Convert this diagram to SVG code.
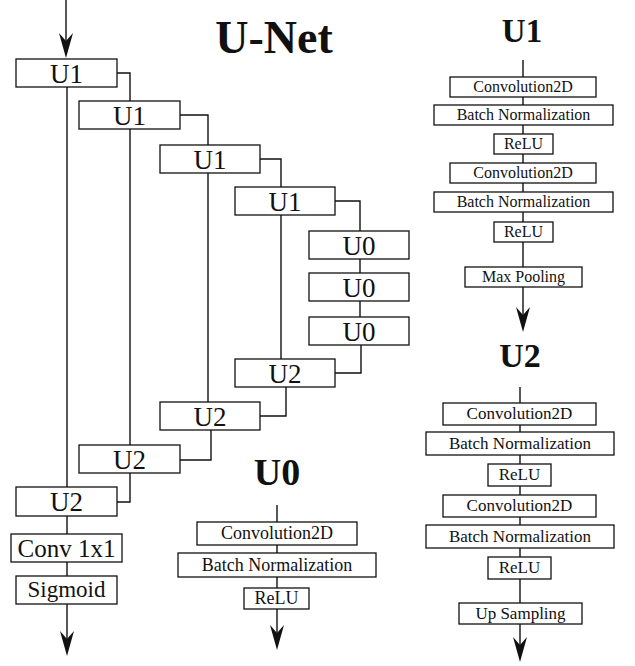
<svg xmlns="http://www.w3.org/2000/svg" width="635" height="666" viewBox="0 0 635 666">
  <style>
    .box { fill: #fff; stroke: #111; stroke-width: 1.3; }
    .wire { fill: none; stroke: #111; stroke-width: 1.4; }
    .t { font-family: "Liberation Serif", "Times New Roman", serif; fill: #111; text-anchor: middle; }
    .big { font-size: 27px; }
    .title { font-weight: bold; }
    .s16 { font-size: 16px; }
    .s17 { font-size: 17px; }
    .s18 { font-size: 18px; }
  </style>
  <defs>
    <marker id="head" viewBox="0 0 25 14" refX="17" refY="7" markerWidth="25" markerHeight="14" markerUnits="userSpaceOnUse" orient="auto">
      <path d="M0,0 L25,7 L0,14 L8,7 Z" fill="#111"/>
    </marker>
  </defs>

  <rect width="635" height="666" fill="#fff"/>

  <!-- titles -->
  <text class="t title" x="274" y="53" font-size="46">U-Net</text>
  <text class="t title" x="277" y="485" font-size="38">U0</text>
  <text class="t title" x="522" y="42" font-size="33">U1</text>
  <text class="t title" x="520" y="367" font-size="34">U2</text>

  <!-- connectors -->
  <g id="connectors">
    <!-- U-Net main flow -->
    <path class="wire" d="M66,0 V50" marker-end="url(#head)"/>
    <path class="wire" d="M117,73 H130 V101"/>
    <path class="wire" d="M180,115 H208 V145"/>
    <path class="wire" d="M260,159 H281 V187"/>
    <path class="wire" d="M335,201 H360 V231"/>
    <path class="wire" d="M360,259 V273"/>
    <path class="wire" d="M360,301 V317"/>
    <path class="wire" d="M361,345 V373 H335"/>
    <path class="wire" d="M286,387 V416 H260"/>
    <path class="wire" d="M211,430 V460 H180"/>
    <path class="wire" d="M130,473 V502 H117"/>
    <path class="wire" d="M67,516 V534"/>
    <path class="wire" d="M67,562 V576"/>
    <path class="wire" d="M67,604 V648" marker-end="url(#head)"/>
    <!-- skip connections -->
    <path class="wire" d="M67,87 V487"/>
    <path class="wire" d="M130,129 V445"/>
    <path class="wire" d="M208,173 V402"/>
    <path class="wire" d="M281,215 V359"/>
    <!-- U0 block spine -->
    <path class="wire" d="M277,505 V642" marker-end="url(#head)"/>
    <!-- U1 block spine -->
    <path class="wire" d="M523,60 V324" marker-end="url(#head)"/>
    <!-- U2 block spine -->
    <path class="wire" d="M520,387 V654" marker-end="url(#head)"/>
  </g>

  <!-- U-Net nodes -->
  <g id="down1"><rect class="box" x="16" y="59" width="101" height="28"/><text class="t big" x="66.5" y="83">U1</text></g>
  <g id="down2"><rect class="box" x="79" y="101" width="101" height="28"/><text class="t big" x="129.5" y="125">U1</text></g>
  <g id="down3"><rect class="box" x="160" y="145" width="100" height="28"/><text class="t big" x="210" y="169">U1</text></g>
  <g id="down4"><rect class="box" x="235" y="187" width="100" height="28"/><text class="t big" x="285" y="211">U1</text></g>
  <g id="bottom1"><rect class="box" x="309" y="231" width="100" height="28"/><text class="t big" x="359" y="255">U0</text></g>
  <g id="bottom2"><rect class="box" x="309" y="273" width="100" height="28"/><text class="t big" x="359" y="297">U0</text></g>
  <g id="bottom3"><rect class="box" x="309" y="317" width="100" height="28"/><text class="t big" x="359" y="341">U0</text></g>
  <g id="up4"><rect class="box" x="235" y="359" width="100" height="28"/><text class="t big" x="285" y="383">U2</text></g>
  <g id="up3"><rect class="box" x="160" y="402" width="100" height="28"/><text class="t big" x="210" y="426">U2</text></g>
  <g id="up2"><rect class="box" x="79" y="445" width="101" height="28"/><text class="t big" x="129.5" y="469">U2</text></g>
  <g id="up1"><rect class="box" x="16" y="487" width="101" height="29"/><text class="t big" x="66.5" y="511">U2</text></g>
  <g id="conv1x1"><rect class="box" x="11" y="534" width="111" height="28"/><text class="t" x="66.5" y="557" font-size="25">Conv 1x1</text></g>
  <g id="sigmoid"><rect class="box" x="16" y="576" width="101" height="28"/><text class="t" x="66.5" y="597" font-size="23">Sigmoid</text></g>

  <!-- U0 block -->
  <g id="u0-conv"><rect class="box" x="197" y="522" width="160" height="23"/><text class="t s18" x="277" y="539">Convolution2D</text></g>
  <g id="u0-bn"><rect class="box" x="178" y="553" width="198" height="24"/><text class="t s18" x="277" y="571">Batch Normalization</text></g>
  <g id="u0-relu"><rect class="box" x="244" y="588" width="65" height="21"/><text class="t s18" x="276.5" y="604">ReLU</text></g>

  <!-- U1 block -->
  <g id="u1-conv-a"><rect class="box" x="450" y="77" width="146" height="20"/><text class="t s16" x="523" y="92">Convolution2D</text></g>
  <g id="u1-bn-a"><rect class="box" x="434" y="105" width="179" height="20"/><text class="t s16" x="523.5" y="120">Batch Normalization</text></g>
  <g id="u1-relu-a"><rect class="box" x="494" y="134" width="59" height="20"/><text class="t s16" x="523.5" y="149">ReLU</text></g>
  <g id="u1-conv-b"><rect class="box" x="450" y="163" width="146" height="20"/><text class="t s16" x="523" y="178">Convolution2D</text></g>
  <g id="u1-bn-b"><rect class="box" x="434" y="192" width="179" height="20"/><text class="t s16" x="523.5" y="207">Batch Normalization</text></g>
  <g id="u1-relu-b"><rect class="box" x="494" y="222" width="59" height="20"/><text class="t s16" x="523.5" y="237">ReLU</text></g>
  <g id="u1-pool"><rect class="box" x="465" y="267" width="117" height="20"/><text class="t s16" x="523.5" y="282">Max Pooling</text></g>

  <!-- U2 block -->
  <g id="u2-conv-a"><rect class="box" x="443" y="403" width="153" height="22"/><text class="t s17" x="519.5" y="419">Convolution2D</text></g>
  <g id="u2-bn-a"><rect class="box" x="426" y="432" width="188" height="23"/><text class="t s17" x="520" y="449">Batch Normalization</text></g>
  <g id="u2-relu-a"><rect class="box" x="488" y="464" width="63" height="22"/><text class="t s17" x="519.5" y="480">ReLU</text></g>
  <g id="u2-conv-b"><rect class="box" x="443" y="495" width="153" height="22"/><text class="t s17" x="519.5" y="511">Convolution2D</text></g>
  <g id="u2-bn-b"><rect class="box" x="426" y="525" width="188" height="23"/><text class="t s17" x="520" y="542">Batch Normalization</text></g>
  <g id="u2-relu-b"><rect class="box" x="488" y="557" width="63" height="22"/><text class="t s17" x="519.5" y="573">ReLU</text></g>
  <g id="u2-upsample"><rect class="box" x="459" y="603" width="123" height="21"/><text class="t s17" x="520.5" y="619">Up Sampling</text></g>
</svg>
